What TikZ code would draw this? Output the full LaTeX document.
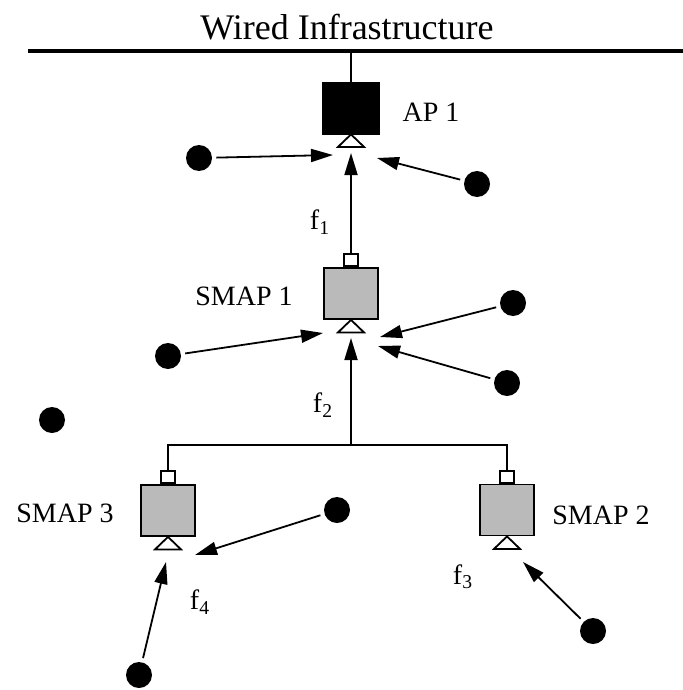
\documentclass[tikz,border=0pt]{standalone}
\usepackage{fontspec}
\setmainfont{Liberation Serif}
\usepackage{tikz}
\usetikzlibrary{
    arrows.meta,
    calc,
    positioning
}

\tikzset{
    sta/.style={circle, fill=black, inner sep=0pt, minimum size=13pt},
    smapbox/.style={draw, fill=black!27, line width=0.9pt, inner sep=0pt, minimum width=27pt, minimum height=25.5pt},
    plug/.style={draw, fill=white, line width=0.9pt, inner sep=0pt, minimum width=7pt, minimum height=6pt},
    lbl/.style={font=\fontsize{14}{16}\selectfont},
    arr/.style={-{Triangle[length=11pt,width=6.5pt]}, line width=0.9pt, shorten <=2pt}
}
\newcommand{\antenna}[1]{\draw[line width=0.9pt, fill=white] (#1.south) -- ++(-13,12.5) -- ++(26,0) -- cycle;}

\begin{document}
\begin{tikzpicture}[x=0.5pt, y=-0.5pt]
    \useasboundingbox (0,0) rectangle (683,690);
    % wired backbone
    \node[font=\fontsize{18}{20}\selectfont] (wired) at (347,27) {Wired Infrastructure};
    \coordinate (bl) at (28,51);
    \coordinate (br) at (683,51);
    \draw[line width=2.2pt] (bl) -- (br);
    % access points
    \node[draw, fill=black, inner sep=0pt, minimum width=28.5pt, minimum height=26pt] (ap1) at (351,108) {};
    \node[lbl] (ap1l) at (431,112) {AP 1};
    \node[smapbox] (s1) at (351,293.5) {};
    \node[plug, above=0pt of s1] (p1) {};
    \node[lbl] (s1l) at (244,296) {SMAP 1};
    \node[smapbox] (s3) at (168,510.5) {};
    \node[plug, above=0pt of s3] (p3) {};
    \node[lbl] (s3l) at (65,513) {SMAP 3};
    \node[smapbox] (s2) at (507,510) {};
    \node[plug, above=0pt of s2] (p2) {};
    \node[lbl] (s2l) at (601,515) {SMAP 2};
    \antenna{ap1}
    \antenna{s1}
    \antenna{s3}
    \antenna{s2}
    \draw[line width=0.9pt] (ap1.north) -- (ap1.north |- bl);
    % flow labels
    \node[lbl] (f1) at (320,222) {f\textsubscript{1}};
    \node[lbl] (f2) at (323,405) {f\textsubscript{2}};
    \node[lbl] (f3) at (463,577) {f\textsubscript{3}};
    \node[lbl] (f4) at (200,602) {f\textsubscript{4}};
    % stations
    \node[sta] (a) at (199,158) {};
    \node[sta] (b) at (477,184) {};
    \node[sta] (c) at (168,356) {};
    \node[sta] (d) at (513,303) {};
    \node[sta] (e) at (507,383) {};
    \node[sta] (g) at (52,420) {};
    \node[sta] (h) at (337,510) {};
    \node[sta] (i) at (139,675) {};
    \node[sta] (k) at (593,631) {};
    % arrow targets
    \coordinate (ta) at (333,155);
    \coordinate (tb) at (377,158);
    \coordinate (tf1) at (351,153);
    \coordinate (tc) at (323,333);
    \coordinate (td) at (380,337);
    \coordinate (te) at (378,346);
    \coordinate (tf2) at (351,338);
    \coordinate (th) at (195,555);
    \coordinate (ti) at (166,562);
    \coordinate (tk) at (523,562);
    \coordinate (j) at (351,445);
    % wireless tree
    \draw[line width=0.9pt] (p3.north) |- (j) -| (p2.north);
    \draw
    (a) edge[arr] (ta)
    (b) edge[arr] (tb)
    (p1.north) edge[arr, shorten <=0pt] (tf1)
    (c) edge[arr] (tc)
    (d) edge[arr] (td)
    (e) edge[arr] (te)
    (j) edge[arr, shorten <=0pt] (tf2)
    (h) edge[arr] (th)
    (i) edge[arr] (ti)
    (k) edge[arr] (tk);
\end{tikzpicture}
\end{document}
